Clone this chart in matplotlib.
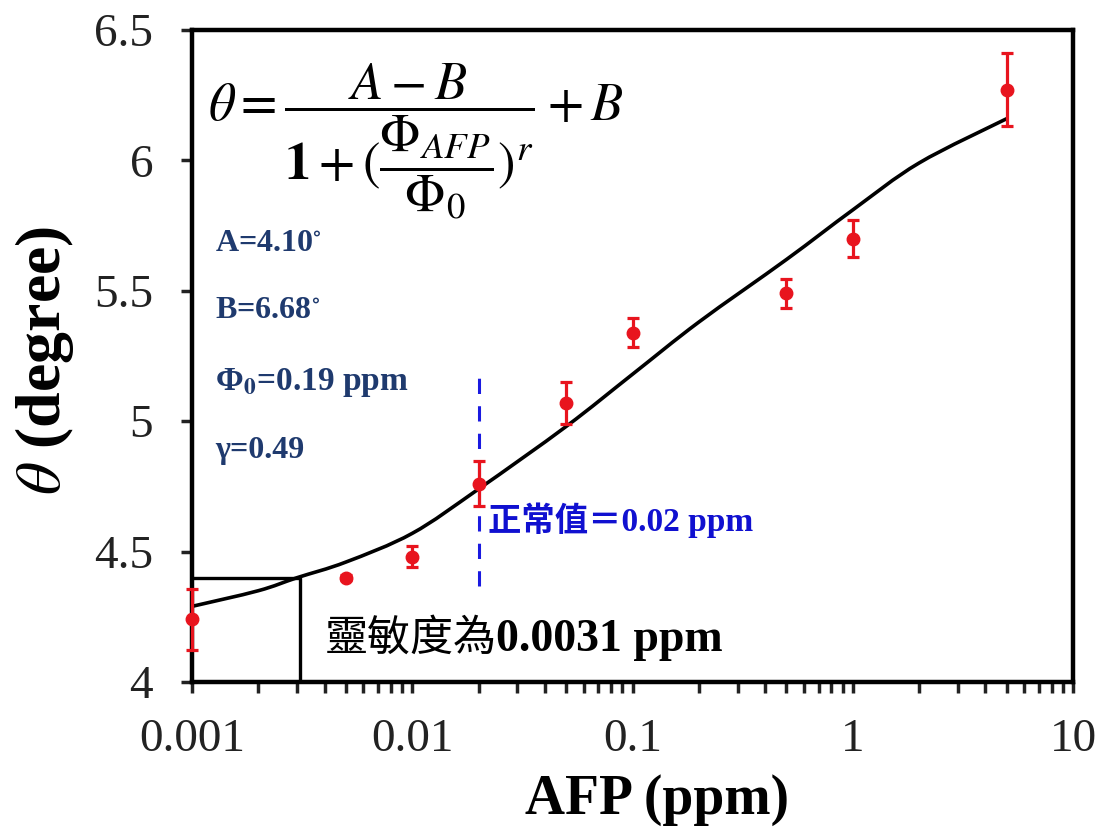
# AFP sensor response curve
import numpy as np
import matplotlib
matplotlib.use("Agg")
import matplotlib.pyplot as plt
from matplotlib.path import Path
from matplotlib.patches import PathPatch
from matplotlib.ticker import FixedLocator, LogLocator, NullFormatter

# measured points
afp = [0.001, 0.005, 0.01, 0.02, 0.05, 0.1, 0.5, 1, 5]
theta = [4.24, 4.40, 4.48, 4.76, 5.07, 5.34, 5.49, 5.70, 6.27]
theta_err = [0.116, 0.01, 0.04, 0.086, 0.08, 0.055, 0.055, 0.07, 0.14]

# fitted curve
fit_x = [0.001, 0.002, 0.003, 0.005, 0.01, 0.02, 0.05, 0.1, 0.2, 0.5, 1, 2, 5]
fit_y = [4.29, 4.35, 4.40, 4.46, 4.57, 4.74, 4.98, 5.18, 5.38, 5.62, 5.81, 5.99, 6.16]

# detection limit and normal value
lod_x = 0.0031
lod_y = 4.397
normal_x = 0.02
normal_span = [4.37, 5.17]

x_ticks = [0.001, 0.01, 0.1, 1, 10]
x_labels = ["0.001", "0.01", "0.1", "1", "10"]
y_ticks = [4, 4.5, 5, 5.5, 6, 6.5]
y_labels = ["4", "4.5", "5", "5.5", "6", "6.5"]

plt.rcParams['mathtext.fontset'] = 'stix'
serif = ['Liberation Serif', 'Noto Sans CJK TC', 'DejaVu Sans']


def smooth_path(xs, ys):
    # excel-like smoothed line: catmull-rom segments as cubic beziers (log x)
    lx = np.log10(xs)
    ys = np.asarray(ys, float)
    n = len(lx)
    verts = [(xs[0], ys[0])]
    codes = [Path.MOVETO]
    for i in range(n - 1):
        i0, i3 = max(i - 1, 0), min(i + 2, n - 1)
        c1 = (lx[i] + (lx[i + 1] - lx[i0]) / 6, ys[i] + (ys[i + 1] - ys[i0]) / 6)
        c2 = (lx[i + 1] - (lx[i3] - lx[i]) / 6, ys[i + 1] - (ys[i3] - ys[i]) / 6)
        verts += [(10 ** c1[0], c1[1]), (10 ** c2[0], c2[1]), (xs[i + 1], ys[i + 1])]
        codes += [Path.CURVE4] * 3
    return Path(verts, codes)


fig = plt.figure(figsize=(11.04, 8.38), dpi=100)
ax = fig.add_axes([192/1104, 1-682/838, (1073-192)/1104, (682-30)/838])

ax.add_patch(PathPatch(smooth_path(fit_x, fit_y), fill=False, edgecolor='black',
                       lw=2.6, zorder=3))
ax.errorbar(afp, theta, yerr=theta_err, fmt='o', color='#E8141E', ms=9,
            elinewidth=2.3, capsize=4, capthick=2.3, zorder=5, clip_on=False)

# sensitivity box
ax.plot([0.001, lod_x, lod_x], [lod_y, lod_y, 4], color='black', lw=2.4, zorder=2)
# normal value line
ax.plot([normal_x, normal_x], normal_span, color='#1A1AE0', lw=2.2,
        dashes=(5, 4), zorder=2)

ax.set_xscale('log')
ax.set_xlim(0.001, 10)
ax.set_ylim(4, 6.5)
ax.xaxis.set_major_locator(FixedLocator(x_ticks))
ax.set_xticklabels(x_labels)
ax.xaxis.set_minor_locator(LogLocator(base=10, subs=np.arange(2, 10)))
ax.xaxis.set_minor_formatter(NullFormatter())
ax.set_yticks(y_ticks)
ax.set_yticklabels(y_labels)

for sp in ax.spines.values():
    sp.set_linewidth(3.2)
    sp.set_color('black')
ax.tick_params(axis='both', which='both', direction='out', length=8, width=2.5,
               labelsize=34, colors='#222222')
ax.tick_params(axis='x', which='both', pad=18)
ax.tick_params(axis='y', pad=20)
for lab in ax.get_xticklabels() + ax.get_yticklabels():
    lab.set_family(serif)

ax.set_xlabel("AFP (ppm)", family=serif, fontsize=40, fontweight='bold', va='center')
ax.xaxis.set_label_coords(0.528, -0.181)
ax.set_ylabel(r"$\theta$ (degree)", family=serif, fontsize=46, fontweight='bold',
              va='center')
ax.yaxis.set_label_coords(-0.167, 0.493)

# equation
fig.text(208/1104, 1-141/838,
         r"$\theta = \dfrac{A-B}{\mathbf{1}+(\dfrac{\Phi_{AFP}}{\Phi_0})^r}+B$",
         fontsize=38, va='center', ha='left')

navy = '#1F3A6E'
params = [r"A=4.10$^{\circ}$", r"B=6.68$^{\circ}$", r"Φ$_\mathbf{0}$=0.19 ppm", "γ=0.49"]
param_y = [243, 310, 382, 450]
param_size = [23, 23, 24, 23]
for t, py, fs in zip(params, param_y, param_size):
    fig.text(215/1104, 1-py/838, t, color=navy, fontsize=fs, fontweight='bold',
             family=serif, va='center', ha='left')

fig.text(488/1104, 1-520/838, "正常值＝0.02 ppm", color='#1010D0', fontsize=24,
         fontweight='bold', family=serif, va='center', ha='left')
fig.text(325/1104, 1-640/838, "靈敏度為", color='black', fontsize=31,
         family=serif, va='center', ha='left')
fig.text(496/1104, 1-640/838, "0.0031 ppm", color='black', fontsize=33,
         fontweight='bold', family=serif, va='center', ha='left')

fig.savefig("out.png", dpi=100)
